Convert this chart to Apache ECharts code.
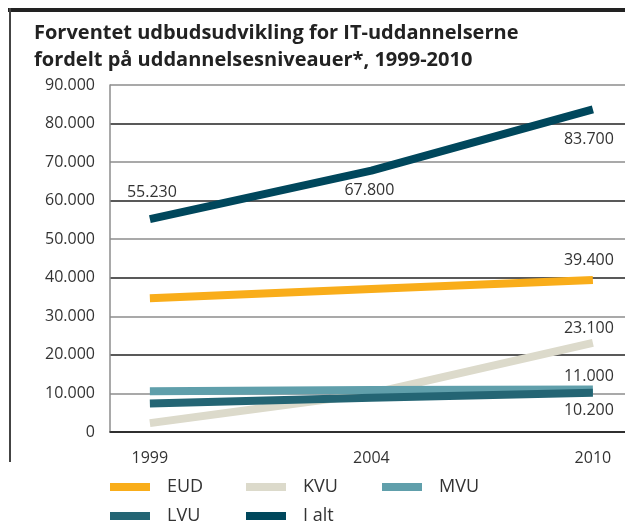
<!DOCTYPE html>
<html>
<head>
<meta charset="utf-8">
<script src="https://cdn.jsdelivr.net/npm/echarts@6/dist/echarts.min.js"></script>
<style>
  html, body { margin: 0; padding: 0; background: #fff; }
  #chart { width: 625px; height: 527px; }
</style>
</head>
<body>
<div id="chart"></div>
<script>
// data
const years = ['1999', '2004', '2010'];
const eud = [34700, 37100, 39400];
const kvu = [2300, 10000, 23100];
const mvu = [10600, 10900, 11000];
const lvu = [7400, 8900, 10200];
const iAlt = [55230, 67800, 83700];
const yTicks = [0, 10000, 20000, 30000, 40000, 50000, 60000, 70000, 80000, 90000];

const names = ['EUD', 'KVU', 'MVU', 'LVU', 'I alt'];
const colors = ['#f9ad1a', '#dcdacb', '#609fab', '#246574', '#00475c'];

const fmt = v => String(v).replace(/\B(?=(\d{3})+(?!\d))/g, '.');

// which points carry a value label and where it sits (px offset)
const labelSpots = {
  'EUD': { 2: [-4, -20] },
  'KVU': { 2: [-4, -14] },
  'MVU': { 2: [-4, -13] },
  'LVU': { 2: [-4, 18] },
  'I alt': { 0: [2, -27], 1: [-2, 20], 2: [-4, 30] }
};

const seriesValues = [eud, kvu, mvu, lvu, iAlt];

function lineSeries(name, values, color) {
  return {
    name: name,
    type: 'line',
    symbol: 'none',
    color: color,
    lineStyle: { width: 8, color: color, cap: 'butt' },
    emphasis: { disabled: true },
    data: values.map((v, i) => [i, v])
  };
}

// value labels ride on an invisible scatter
const labelData = [];
names.forEach((n, s) => {
  seriesValues[s].forEach((v, i) => {
    const spot = labelSpots[n][i];
    if (spot) {
      labelData.push({
        value: [i, v],
        label: { offset: spot, formatter: fmt(v) }
      });
    }
  });
});

// legend spots: [left, top]
const legendSpots = [[110, 478], [246, 478], [382, 478], [110, 507], [246, 507]];

const chart = echarts.init(document.getElementById('chart'));

chart.setOption({
  animation: false,
  title: {
    text: 'Forventet udbudsudvikling for IT-uddannelserne\nfordelt på uddannelsesniveauer*, 1999-2010',
    left: 34,
    top: 20,
    padding: 0,
    textStyle: {
      fontFamily: 'Open Sans',
      fontWeight: 'bold',
      fontSize: 20,
      lineHeight: 27,
      color: '#222'
    }
  },
  graphic: [
    { type: 'rect', shape: { x: 8, y: 8, width: 617, height: 4 }, style: { fill: '#222' } },
    { type: 'rect', shape: { x: 9, y: 8, width: 2, height: 454 }, style: { fill: '#444' } }
  ],
  legend: names.map((n, i) => ({
    data: [{ name: n, itemStyle: { color: colors[i] } }],
    left: legendSpots[i][0],
    top: legendSpots[i][1],
    padding: 0,
    icon: 'rect',
    itemWidth: 40,
    itemHeight: 8,
    selectedMode: false,
    textStyle: {
      fontFamily: 'Open Sans',
      fontSize: 18,
      color: '#333',
      padding: [0, 0, 0, 12]
    }
  })),
  grid: { left: 110, right: 0, top: 85, bottom: 95 },
  xAxis: {
    type: 'value',
    min: -0.18,
    max: 2.145,
    splitLine: { show: false },
    axisTick: { show: false },
    axisLine: { show: true, onZero: false, lineStyle: { color: '#222', width: 1.5 } },
    axisLabel: {
      customValues: [0, 1, 2],
      formatter: v => years[Math.round(v)],
      margin: 18,
      fontFamily: 'Open Sans',
      fontSize: 16,
      color: '#333'
    }
  },
  yAxis: {
    type: 'value',
    min: yTicks[0],
    max: yTicks[yTicks.length - 1],
    interval: 10000,
    axisLine: { show: true, onZero: false, lineStyle: { color: '#8c8c8c', width: 1.5 } },
    axisTick: { show: false },
    splitLine: { lineStyle: { color: ['#222', '#8c8c8c'], width: 1.5 } },
    axisLabel: {
      formatter: v => fmt(v),
      margin: 15,
      fontFamily: 'Open Sans',
      fontSize: 16,
      color: '#333'
    }
  },
  series: names.map((n, i) => lineSeries(n, seriesValues[i], colors[i])).concat([{
    name: 'labels',
    type: 'scatter',
    symbolSize: 1,
    itemStyle: { color: 'transparent', opacity: 1 },
    silent: true,
    z: 5,
    label: {
      show: true,
      position: 'inside',
      fontSize: 16,
      fontFamily: 'Open Sans',
      color: '#333'
    },
    data: labelData
  }])
});
</script>
</body>
</html>
